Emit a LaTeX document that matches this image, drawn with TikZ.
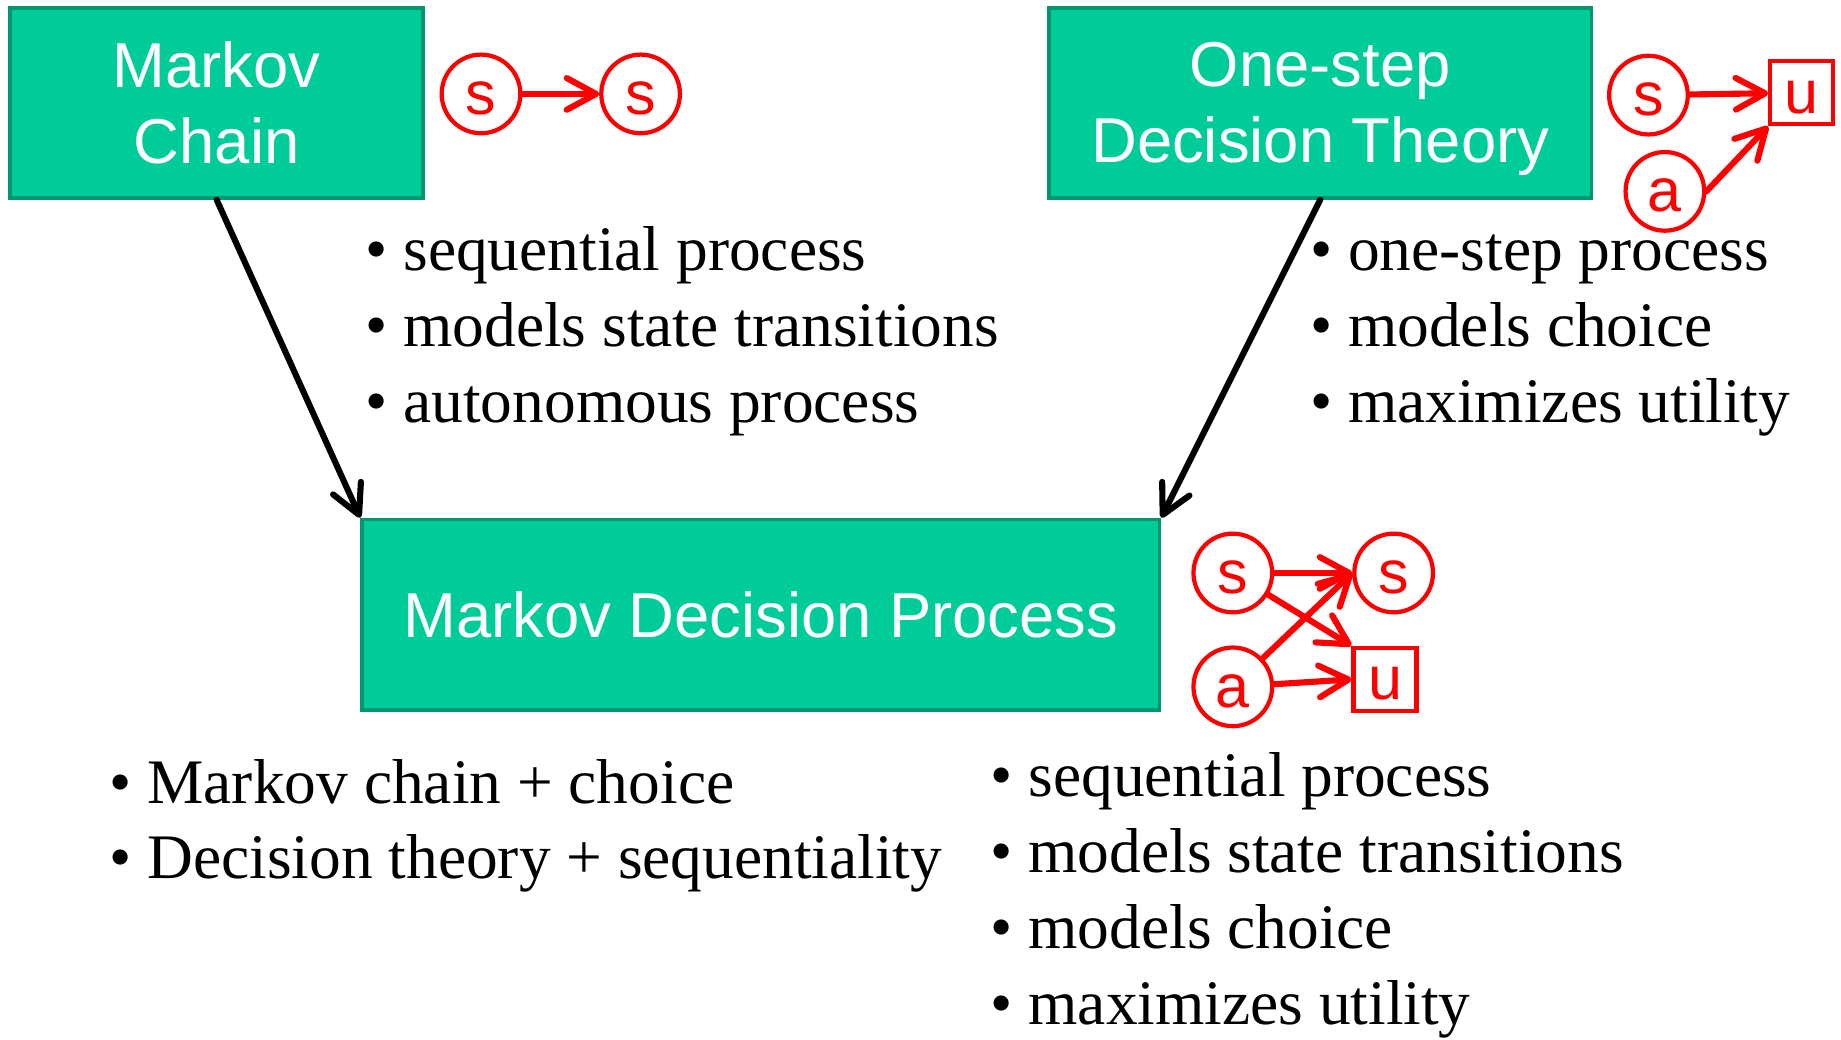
\documentclass[tikz,border=0pt]{standalone}
\usepackage{fontspec}
\setmainfont{Liberation Serif}
\newfontfamily\boxfont{Liberation Sans}
\usepackage{tikz}
\usetikzlibrary{arrows.meta}
\definecolor{boxfill}{RGB}{0,204,153}
\definecolor{boxedge}{RGB}{0,150,110}
\newcommand{\bul}{\textbullet\ }

\begin{document}
\begin{tikzpicture}[x=1pt, y=-1pt,
    mainbox/.style={rectangle, draw=boxedge, fill=boxfill, line width=3.2pt, text=white, align=center,
        font=\boxfont\fontsize{54}{64.6}\selectfont, minimum height=162pt, inner sep=0pt},
    point/.style={anchor=base west, inner sep=0pt, font=\fontsize{54}{65}\selectfont},
    rstate/.style={circle, draw=red, line width=3.6pt, minimum size=67pt, inner sep=0pt, text=red,
        font=\boxfont\fontsize{52}{60}\selectfont, text height=35pt, text depth=0pt},
    rutil/.style={rstate, rectangle, minimum size=53.5pt},
    redarrow/.style={red, line width=5.2pt, line cap=round, -{Straight Barb[length=25pt, width=27pt, round]}},
    mainarrow/.style={black, line width=5.2pt, line cap=round, -{Straight Barb[length=25pt, width=26pt, round]}}]
    \useasboundingbox (0,0) rectangle (1568,885);

    % Markov Chain
    \node[mainbox, minimum width=352pt] (mc) at (184.5,87.5) {Markov\\Chain};
    \node[rstate] (mcs) at (409.7,80) {s};
    \node[rstate] (mct) at (545.6,80) {s};
    \draw[redarrow] (mcs) -- (mct);
    \node[point] (mc1) at (311,230) {\bul sequential process};
    \node[point] (mc2) at (311,295) {\bul models state transitions};
    \node[point] (mc3) at (311,360) {\bul autonomous process};

    % One-step Decision Theory
    \node[mainbox, minimum width=462pt] (od) at (1124.5,87.5) {One-step\\Decision Theor\smash{y}};
    \node[rstate] (ods) at (1404,81) {s};
    \node[rutil] (odu) at (1534.5,79) {u};
    \node[rstate] (oda) at (1418,163) {a};
    \draw[redarrow] (ods) -- (odu);
    \draw[redarrow] (oda.east) -- (odu.south west);
    \node[point] (od1) at (1115.6,230) {\bul one-step process};
    \node[point] (od2) at (1115.6,295) {\bul models choice};
    \node[point] (od3) at (1115.6,360) {\bul maximizes utility};

    % Markov Decision Process
    \node[mainbox, minimum width=679pt] (mdp) at (648,523.5) {Markov Decision Process};
    \draw[mainarrow] (mc.south) -- (mdp.north west);
    \draw[mainarrow] (od.south) -- (mdp.north east);
    \node[rstate] (ms) at (1050,488) {s};
    \node[rstate] (mt) at (1187,488) {s};
    \node[rstate] (ma) at (1050,585) {a};
    \node[rutil] (mu) at (1179.6,578.6) {u};
    \draw[redarrow] (ms) -- (mt);
    \draw[redarrow] (ms) -- (mu.north west);
    \draw[redarrow] (ma) -- (mt.west);
    \draw[redarrow] (ma) -- (mu.west);
    \node[point] (ml1) at (93,684) {\bul Markov chain + choice};
    \node[point] (ml2) at (93,748) {\bul Decision theory + sequentiality};
    \node[point] (mr1) at (843.4,678.5) {\bul sequential process};
    \node[point] (mr2) at (843.4,743) {\bul models state transitions};
    \node[point] (mr3) at (843.4,808) {\bul models choice};
    \node[point] (mr4) at (843.4,872.5) {\bul maximizes utility};

\end{tikzpicture}
\end{document}
